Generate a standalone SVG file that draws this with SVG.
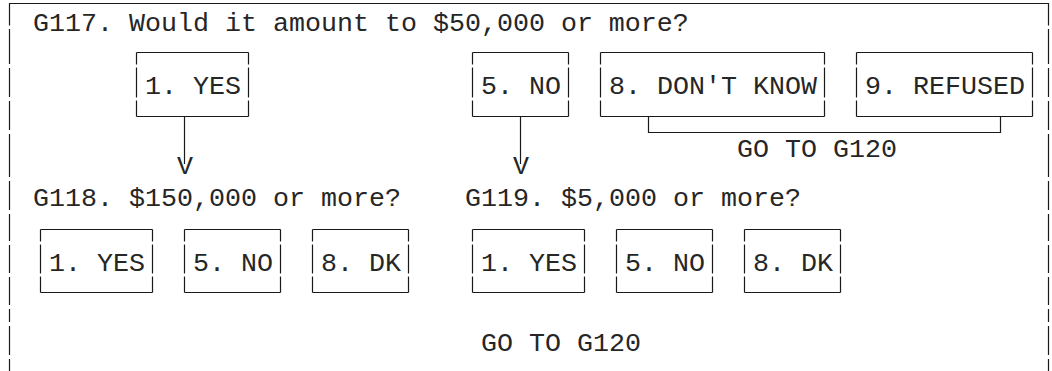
<svg xmlns="http://www.w3.org/2000/svg" width="1052" height="371" viewBox="0 0 1052 371">
<style>
text{font-family:"Liberation Mono","DejaVu Sans Mono",monospace;font-size:26.67px;fill:#262626}
.b{fill:none;stroke:#1a1a1a;stroke-width:1.2}
.c{fill:none;stroke:#1a1a1a;stroke-width:1.2}
.r1{stroke-dasharray:12 3 30 3 100}
.r2{stroke-dasharray:12 3 29 3 100}
</style>
<rect width="1052" height="371" fill="#fff"/>
<g id="frame">
<path class="b" d="M9.5 25.5V3.5H1048.5V25.5"/>
<path class="b" d="M9.5 29V64M9.5 68V97M9.5 101V130M9.5 134V177M9.5 181V210M9.5 214V241M9.5 245V273M9.5 277V305M9.5 309V322M9.5 326V355M9.5 359V371"/>
<path class="b" d="M1048.5 29V64M1048.5 68V97M1048.5 101V130M1048.5 134V177M1048.5 181V210M1048.5 214V241M1048.5 245V273M1048.5 277V305M1048.5 309V322M1048.5 326V355M1048.5 359V371"/>
</g>
<g id="q117"><text x="33" y="31">G117. Would it amount to $50,000 or more?</text></g>
<g id="a117-yes"><path class="b" d="M136.5 52.5H248.5M136.5 116.5H248.5"/><path class="b r1" d="M136.5 52.5V116.5M248.5 52.5V116.5"/><text x="145" y="94">1. YES</text></g>
<g id="a117-no"><path class="b" d="M472.5 52.5H568.5M472.5 116.5H568.5"/><path class="b r1" d="M472.5 52.5V116.5M568.5 52.5V116.5"/><text x="481" y="94">5. NO</text></g>
<g id="a117-dk"><path class="b" d="M600.5 52.5H824.5M600.5 116.5H824.5"/><path class="b r1" d="M600.5 52.5V116.5M824.5 52.5V116.5"/><text x="609" y="94">8. DON'T KNOW</text></g>
<g id="a117-ref"><path class="b" d="M856.5 52.5H1032.5M856.5 116.5H1032.5"/><path class="b r1" d="M856.5 52.5V116.5M1032.5 52.5V116.5"/><text x="865" y="94">9. REFUSED</text></g>
<g id="goto1"><text x="737" y="157">GO TO G120</text></g>
<g id="q118"><text x="33" y="206">G118. $150,000 or more?</text></g>
<g id="q119"><text x="465" y="206">G119. $5,000 or more?</text></g>
<g id="a118-yes"><path class="b" d="M40.5 229.5H152.5M40.5 292.5H152.5"/><path class="b r2" d="M40.5 229.5V292.5M152.5 229.5V292.5"/><text x="49" y="271">1. YES</text></g>
<g id="a118-no"><path class="b" d="M184.5 229.5H280.5M184.5 292.5H280.5"/><path class="b r2" d="M184.5 229.5V292.5M280.5 229.5V292.5"/><text x="193" y="271">5. NO</text></g>
<g id="a118-dk"><path class="b" d="M312.5 229.5H408.5M312.5 292.5H408.5"/><path class="b r2" d="M312.5 229.5V292.5M408.5 229.5V292.5"/><text x="321" y="271">8. DK</text></g>
<g id="a119-yes"><path class="b" d="M472.5 229.5H584.5M472.5 292.5H584.5"/><path class="b r2" d="M472.5 229.5V292.5M584.5 229.5V292.5"/><text x="481" y="271">1. YES</text></g>
<g id="a119-no"><path class="b" d="M616.5 229.5H712.5M616.5 292.5H712.5"/><path class="b r2" d="M616.5 229.5V292.5M712.5 229.5V292.5"/><text x="625" y="271">5. NO</text></g>
<g id="a119-dk"><path class="b" d="M744.5 229.5H840.5M744.5 292.5H840.5"/><path class="b r2" d="M744.5 229.5V292.5M840.5 229.5V292.5"/><text x="753" y="271">8. DK</text></g>
<g id="goto2"><text x="481" y="351">GO TO G120</text></g>
<g id="connectors">
<path class="c" d="M184.5 116.5V164"/>
<path class="c" d="M520.5 116.5V164"/>
<text x="177" y="174">V</text>
<text x="513" y="174">V</text>
<path class="c" d="M648.5 116.5V132.5H1000.5V116.5"/>
</g>
</svg>
